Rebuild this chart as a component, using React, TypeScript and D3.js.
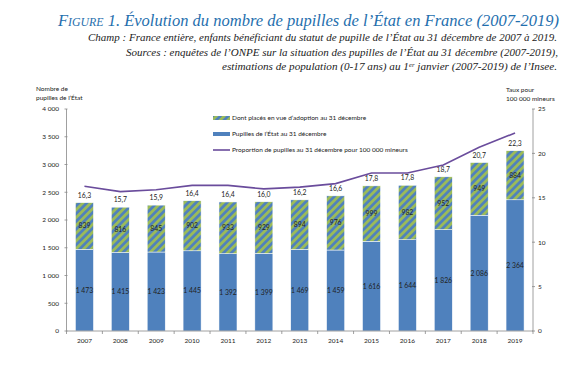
import React from "react";
import * as d3 from "d3";

const years = ["2007","2008","2009","2010","2011","2012","2013","2014","2015","2016","2017","2018","2019"];
const pupilles = [1473,1415,1423,1445,1392,1399,1469,1459,1616,1644,1826,2086,2364];
const placesAdoption = [839,816,845,902,933,929,894,976,999,982,952,949,884];
const taux = [16.3,15.7,15.9,16.4,16.4,16.0,16.2,16.6,17.8,17.8,18.7,20.7,22.3];
const leftTicks = [0,500,1000,1500,2000,2500,3000,3500,4000];
const rightTicks = [0,5,10,15,20,25];

const W = 584, H = 374;
const x0 = 66.5, x1 = 533, yTop = 109, yBot = 331;
const BLUE = "#4F81BD", GREEN = "#9BBB59", PURPLE = "#6A4C9C", TXT = "#222";
const FONT = "Lato, 'Open Sans', sans-serif";
const SERIF = "'Liberation Serif', 'DejaVu Serif', serif";

const fmt = (v: number) => {
  const s = String(v);
  return s.length > 3 ? s.slice(0, s.length - 3) + " " + s.slice(-3) : s;
};
const fmtRate = (v: number) => v.toFixed(1).replace(".", ",");

export default function App() {
  const y = d3.scaleLinear().domain([0, 4000]).range([yBot, yTop]);
  const yr = d3.scaleLinear().domain([0, 25]).range([yBot, yTop]);
  const step = (x1 - x0) / years.length;
  const bw = 18;
  const cx = (yv: string) => x0 + step * (years.indexOf(yv) + 0.5);
  const line = d3.line<number>().x((_, i) => cx(years[i])).y((d) => yr(d));

  return (
    <svg width={W} height={H} style={{ position: "absolute", left: 0, top: 0, background: "#fff" }}>
      <defs>
        <pattern id="stripes" width="5.5" height="5.5" patternUnits="userSpaceOnUse" patternTransform="rotate(45)">
          <rect width="5.5" height="5.5" fill={GREEN} />
          <line x1="1.4" y1="0" x2="1.4" y2="5.5" stroke={BLUE} strokeWidth="2.7" />
        </pattern>
      </defs>
      <rect width={W} height={H} fill="#fff" />
      {/* Title */}
      <text x={58} y={26} fontFamily={SERIF} fontStyle="italic" fontSize={16.8} fill="#1F6FAE" textLength={501} lengthAdjust="spacingAndGlyphs">
        <tspan style={{ fontVariant: "small-caps" }}>Figure</tspan> 1. Évolution du nombre de pupilles de l’État en France (2007-2019)
      </text>
      <text x={88} y={41} fontFamily={SERIF} fontStyle="italic" fontSize={10.8} fill={TXT} textLength={469} lengthAdjust="spacingAndGlyphs">
        Champ : France entière, enfants bénéficiant du statut de pupille de l’État au 31 décembre de 2007 à 2019.
      </text>
      <text x={126} y={55.5} fontFamily={SERIF} fontStyle="italic" fontSize={10.8} fill={TXT} textLength={432} lengthAdjust="spacingAndGlyphs">
        Sources : enquêtes de l’ONPE sur la situation des pupilles de l’État au 31 décembre (2007-2019),
      </text>
      <text x={222} y={70} fontFamily={SERIF} fontStyle="italic" fontSize={10.8} fill={TXT} textLength={335} lengthAdjust="spacingAndGlyphs">
        estimations de population (0-17 ans) au 1<tspan dy={-3.5} fontSize={6.5}>er</tspan><tspan dy={3.5}> janvier (2007-2019) de l’Insee.</tspan>
      </text>

      {/* axis titles */}
      <text fontFamily={FONT} fontSize={6.5} fill={TXT}>
        <tspan x={36} y={91}>Nombre de</tspan>
        <tspan x={36} y={100}>pupilles de l’État</tspan>
      </text>
      <text fontFamily={FONT} fontSize={6.5} fill={TXT}>
        <tspan x={506} y={92}>Taux pour</tspan>
        <tspan x={506} y={101}>100 000 mineurs</tspan>
      </text>

      {/* bars */}
      {years.map((yv, i) => {
        const c = cx(yv);
        const yb = y(pupilles[i]);
        const yt = y(pupilles[i] + placesAdoption[i]);
        return (
          <g key={yv}>
            <rect x={c - bw / 2} y={yb} width={bw} height={yBot - yb} fill={BLUE} stroke="#fff" strokeWidth={0.5} />
            <rect x={c - bw / 2} y={yt} width={bw} height={yb - yt} fill="url(#stripes)" stroke="#fff" strokeWidth={0.5} />
            <text x={c} y={(yb + yBot) / 2 + 2.5} textAnchor="middle" fontFamily={FONT} fontSize={6.8} fill={TXT}>{fmt(pupilles[i])}</text>
            <text x={c} y={(yt + yb) / 2 + 2.5} textAnchor="middle" fontFamily={FONT} fontSize={6.8} fill={TXT}>{fmt(placesAdoption[i])}</text>
            <text x={c} y={yt - 5} textAnchor="middle" fontFamily={FONT} fontSize={6.8} fill={TXT}>{fmtRate(taux[i])}</text>
          </g>
        );
      })}

      {/* line */}
      <path d={line(taux) || ""} fill="none" stroke={PURPLE} strokeWidth={1.6} />

      {/* left axis */}
      <line x1={x0} x2={x0} y1={yTop} y2={yBot} stroke="#888" strokeWidth={0.8} />
      {leftTicks.map((t) => (
        <g key={t}>
          <line x1={x0 - 2} x2={x0 + 1} y1={y(t)} y2={y(t)} stroke="#888" strokeWidth={0.8} />
          <text x={59} y={y(t) + 2.3} textAnchor="end" fontFamily={FONT} fontSize={6.5} fill={TXT}>{fmt(t)}</text>
        </g>
      ))}
      {/* right axis */}
      <line x1={x1} x2={x1} y1={yTop} y2={yBot} stroke="#888" strokeWidth={0.8} />
      {rightTicks.map((t) => (
        <g key={t}>
          <line x1={x1 - 1} x2={x1 + 2} y1={yr(t)} y2={yr(t)} stroke="#888" strokeWidth={0.8} />
          <text x={538} y={yr(t) + 2.3} textAnchor="start" fontFamily={FONT} fontSize={6.5} fill={TXT}>{t}</text>
        </g>
      ))}
      {/* bottom axis */}
      <line x1={x0} x2={x1} y1={yBot} y2={yBot} stroke="#888" strokeWidth={0.8} />
      {d3.range(years.length + 1).map((i) => (
        <line key={i} x1={x0 + i * step} x2={x0 + i * step} y1={yBot} y2={yBot + 3} stroke="#888" strokeWidth={0.8} />
      ))}
      {years.map((yv) => (
        <text key={yv} x={cx(yv)} y={343} textAnchor="middle" fontFamily={FONT} fontSize={6.5} fill={TXT}>{yv}</text>
      ))}

      {/* legend */}
      <rect x={213} y={116} width={17} height={4} fill="url(#stripes)" />
      <text x={232} y={120} fontFamily={FONT} fontSize={6.5} fill={TXT}>Dont placés en vue d’adoption au 31 décembre</text>
      <rect x={213} y={132} width={17} height={4} fill={BLUE} />
      <text x={232} y={136} fontFamily={FONT} fontSize={6.5} fill={TXT}>Pupilles de l’État au 31 décembre</text>
      <line x1={213} x2={230} y1={150} y2={150} stroke={PURPLE} strokeWidth={1.6} />
      <text x={232} y={152.3} fontFamily={FONT} fontSize={6.5} fill={TXT}>Proportion de pupilles au 31 décembre pour 100 000 mineurs</text>
    </svg>
  );
}
